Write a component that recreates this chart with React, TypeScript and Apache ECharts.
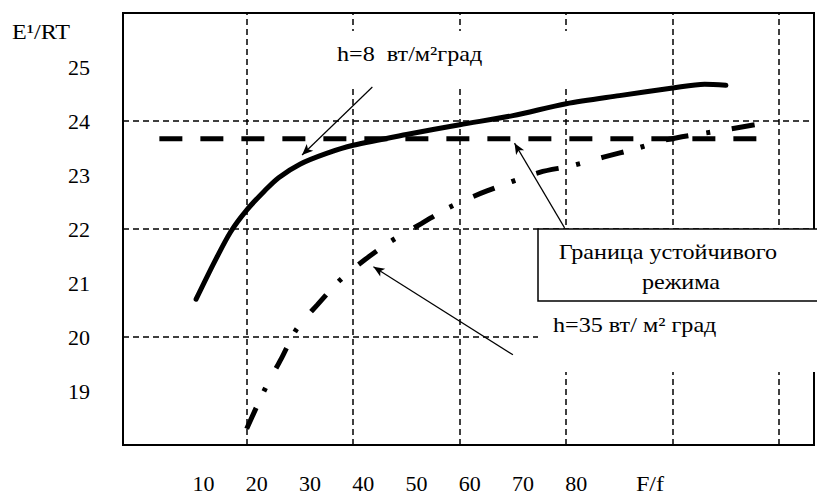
import React, { useEffect, useRef } from "react";
import * as echarts from "echarts";

// ---- data (x in F/f units, y in E¹/RT) ----
const h8F = [10.5, 14, 17, 20, 23.3, 26, 30, 35, 40, 50, 60, 70, 80, 90, 100, 106, 110];
const h8E = [20.7, 21.4, 21.95, 22.35, 22.7, 22.95, 23.2, 23.4, 23.55, 23.75, 23.93, 24.1, 24.32, 24.47, 24.61, 24.68, 24.66];

const h35F = [20, 23.5, 26.5, 29.4, 33.3, 37.5, 42.3, 47.2, 52.8, 58, 65, 75, 81, 87, 92.8, 98.7, 110.7, 116.6];
const h35E = [18.3, 19.05, 19.6, 20.15, 20.6, 21.05, 21.44, 21.78, 22.1, 22.4, 22.7, 23.05, 23.17, 23.33, 23.48, 23.65, 23.85, 23.95];

const boundaryF = [3.6, 116.6];
const boundaryE = [23.67, 23.67];

const xTickLabels = [10, 20, 30, 40, 50, 60, 70, 80];
const yTickLabels = [19, 20, 21, 22, 23, 24, 25];
const xGridValues = [20, 40, 60, 80, 100, 120];
const yGridValues = [20, 22, 24];

// arrows: [tailF, tailE, tipF, tipE]
const arrowH8 = [43.6, 24.63, 30.4, 23.37];
const arrowBoundary = [79.7, 22.02, 70.3, 23.59];
const arrowH35 = [70, 19.67, 43.8, 21.3];

const FONT = "Liberation Serif";

const zip = (xs: number[], ys: number[]) => xs.map((x, i) => [x, ys[i]]);
const isInt = (v: number) => Math.abs(v - Math.round(v)) < 1e-6;

export default function App() {
  const ref = useRef<HTMLDivElement>(null);
  useEffect(() => {
    if (!ref.current) return;
    const chart = echarts.init(ref.current, null, { renderer: "svg" });
    const gridLine = { color: "#000", width: 1.5, type: [6, 4] as any };
    const arrow = (a: number[]) => [
      { coord: [a[0], a[1]] },
      { coord: [a[2], a[3]] },
    ];
    const txt = (text: string, x: number, y: number, align = "left") => ({
      type: "text",
      x,
      y,
      scaleX: 1.15,
      z: 102,
      style: {
        text,
        fontSize: 21,
        fontFamily: FONT,
        fill: "#000",
        align,
        verticalAlign: "middle",
      },
    });
    chart.setOption({
      animation: false,
      backgroundColor: "#fff",
      textStyle: { fontFamily: FONT },
      grid: {
        left: 123,
        top: 13,
        right: -10,
        bottom: 51,
        show: true,
        borderColor: "#000",
        borderWidth: 2,
        backgroundColor: "transparent",
      },
      xAxis: {
        type: "value",
        min: -3.23,
        max: 126.54,
        minInterval: 10,
        maxInterval: 10,
        axisLine: { show: true, onZero: false, lineStyle: { color: "#000", width: 2 } },
        axisTick: { show: false },
        splitLine: { show: false },
        axisLabel: {
          show: true,
          margin: 27,
          fontSize: 22,
          color: "#000",
          fontFamily: FONT,
          padding: [0, 0, 0, 20],
          formatter: (v: number) =>
            isInt(v) && xTickLabels.includes(Math.round(v)) ? String(Math.round(v)) : "",
        },
      },
      yAxis: {
        type: "value",
        min: 18,
        max: 26,
        interval: 1,
        axisLine: { show: true, onZero: false, lineStyle: { color: "#000", width: 2 } },
        axisTick: { show: false },
        splitLine: { show: false },
        axisLabel: {
          margin: 33,
          fontSize: 22,
          color: "#000",
          fontFamily: FONT,
          formatter: (v: number) =>
            isInt(v) && yTickLabels.includes(Math.round(v)) ? String(Math.round(v)) : "",
        },
      },
      series: [
        {
          type: "line",
          name: "grid",
          data: [],
          silent: true,
          markLine: {
            silent: true,
            symbol: ["none", "none"],
            label: { show: false },
            lineStyle: gridLine,
            data: [
              ...xGridValues.map((v) => ({ xAxis: v })),
              ...yGridValues.map((v) => ({ yAxis: v })),
            ],
          },
        },
        {
          type: "line",
          name: "boundary",
          data: zip(boundaryF, boundaryE),
          showSymbol: false,
          symbol: "none",
          lineStyle: { color: "#000", width: 5, type: [23, 18] as any, cap: "butt" },
          markLine: {
            silent: true,
            symbol: ["none", "arrow"],
            symbolSize: [7, 11],
            label: { show: false },
            lineStyle: { color: "#000", width: 1.2, type: "solid" },
            data: [arrow(arrowH8), arrow(arrowBoundary), arrow(arrowH35)],
          },
        },
        {
          type: "line",
          name: "h=8",
          data: zip(h8F, h8E),
          smooth: 0.3,
          showSymbol: false,
          symbol: "none",
          lineStyle: { color: "#000", width: 5, cap: "round" },
        },
        {
          type: "line",
          name: "h=35",
          data: zip(h35F, h35E),
          smooth: 0.3,
          showSymbol: false,
          symbol: "none",
          lineStyle: { color: "#000", width: 5, type: [23, 18, 4, 22] as any, cap: "butt" },
        },
      ],
      graphic: [
        txt("E¹/RT", 12, 32),
        txt("F/f", 650, 484, "center"),
        {
          type: "rect",
          z: 100,
          shape: { x: 300, y: 31, width: 300, height: 54 },
          style: { fill: "#fff", stroke: null },
        },
        txt("h=8  вт/м²град", 337, 54),
        {
          type: "rect",
          z: 100,
          shape: { x: 538, y: 300, width: 300, height: 72 },
          style: { fill: "#fff", stroke: null },
        },
        {
          type: "rect",
          z: 101,
          shape: { x: 538, y: 229, width: 300, height: 72 },
          style: { fill: "#fff", stroke: "#000", lineWidth: 1.5 },
        },
        txt("Граница устойчивого", 668, 252, "center"),
        txt("режима", 681, 282, "center"),
        txt("h=35 вт/ м² град", 553, 325),
      ],
    });
    return () => chart.dispose();
  }, []);
  return (
    <div
      ref={ref}
      style={{ position: "absolute", left: 0, top: 0, width: 817, height: 496, background: "#fff" }}
    />
  );
}
